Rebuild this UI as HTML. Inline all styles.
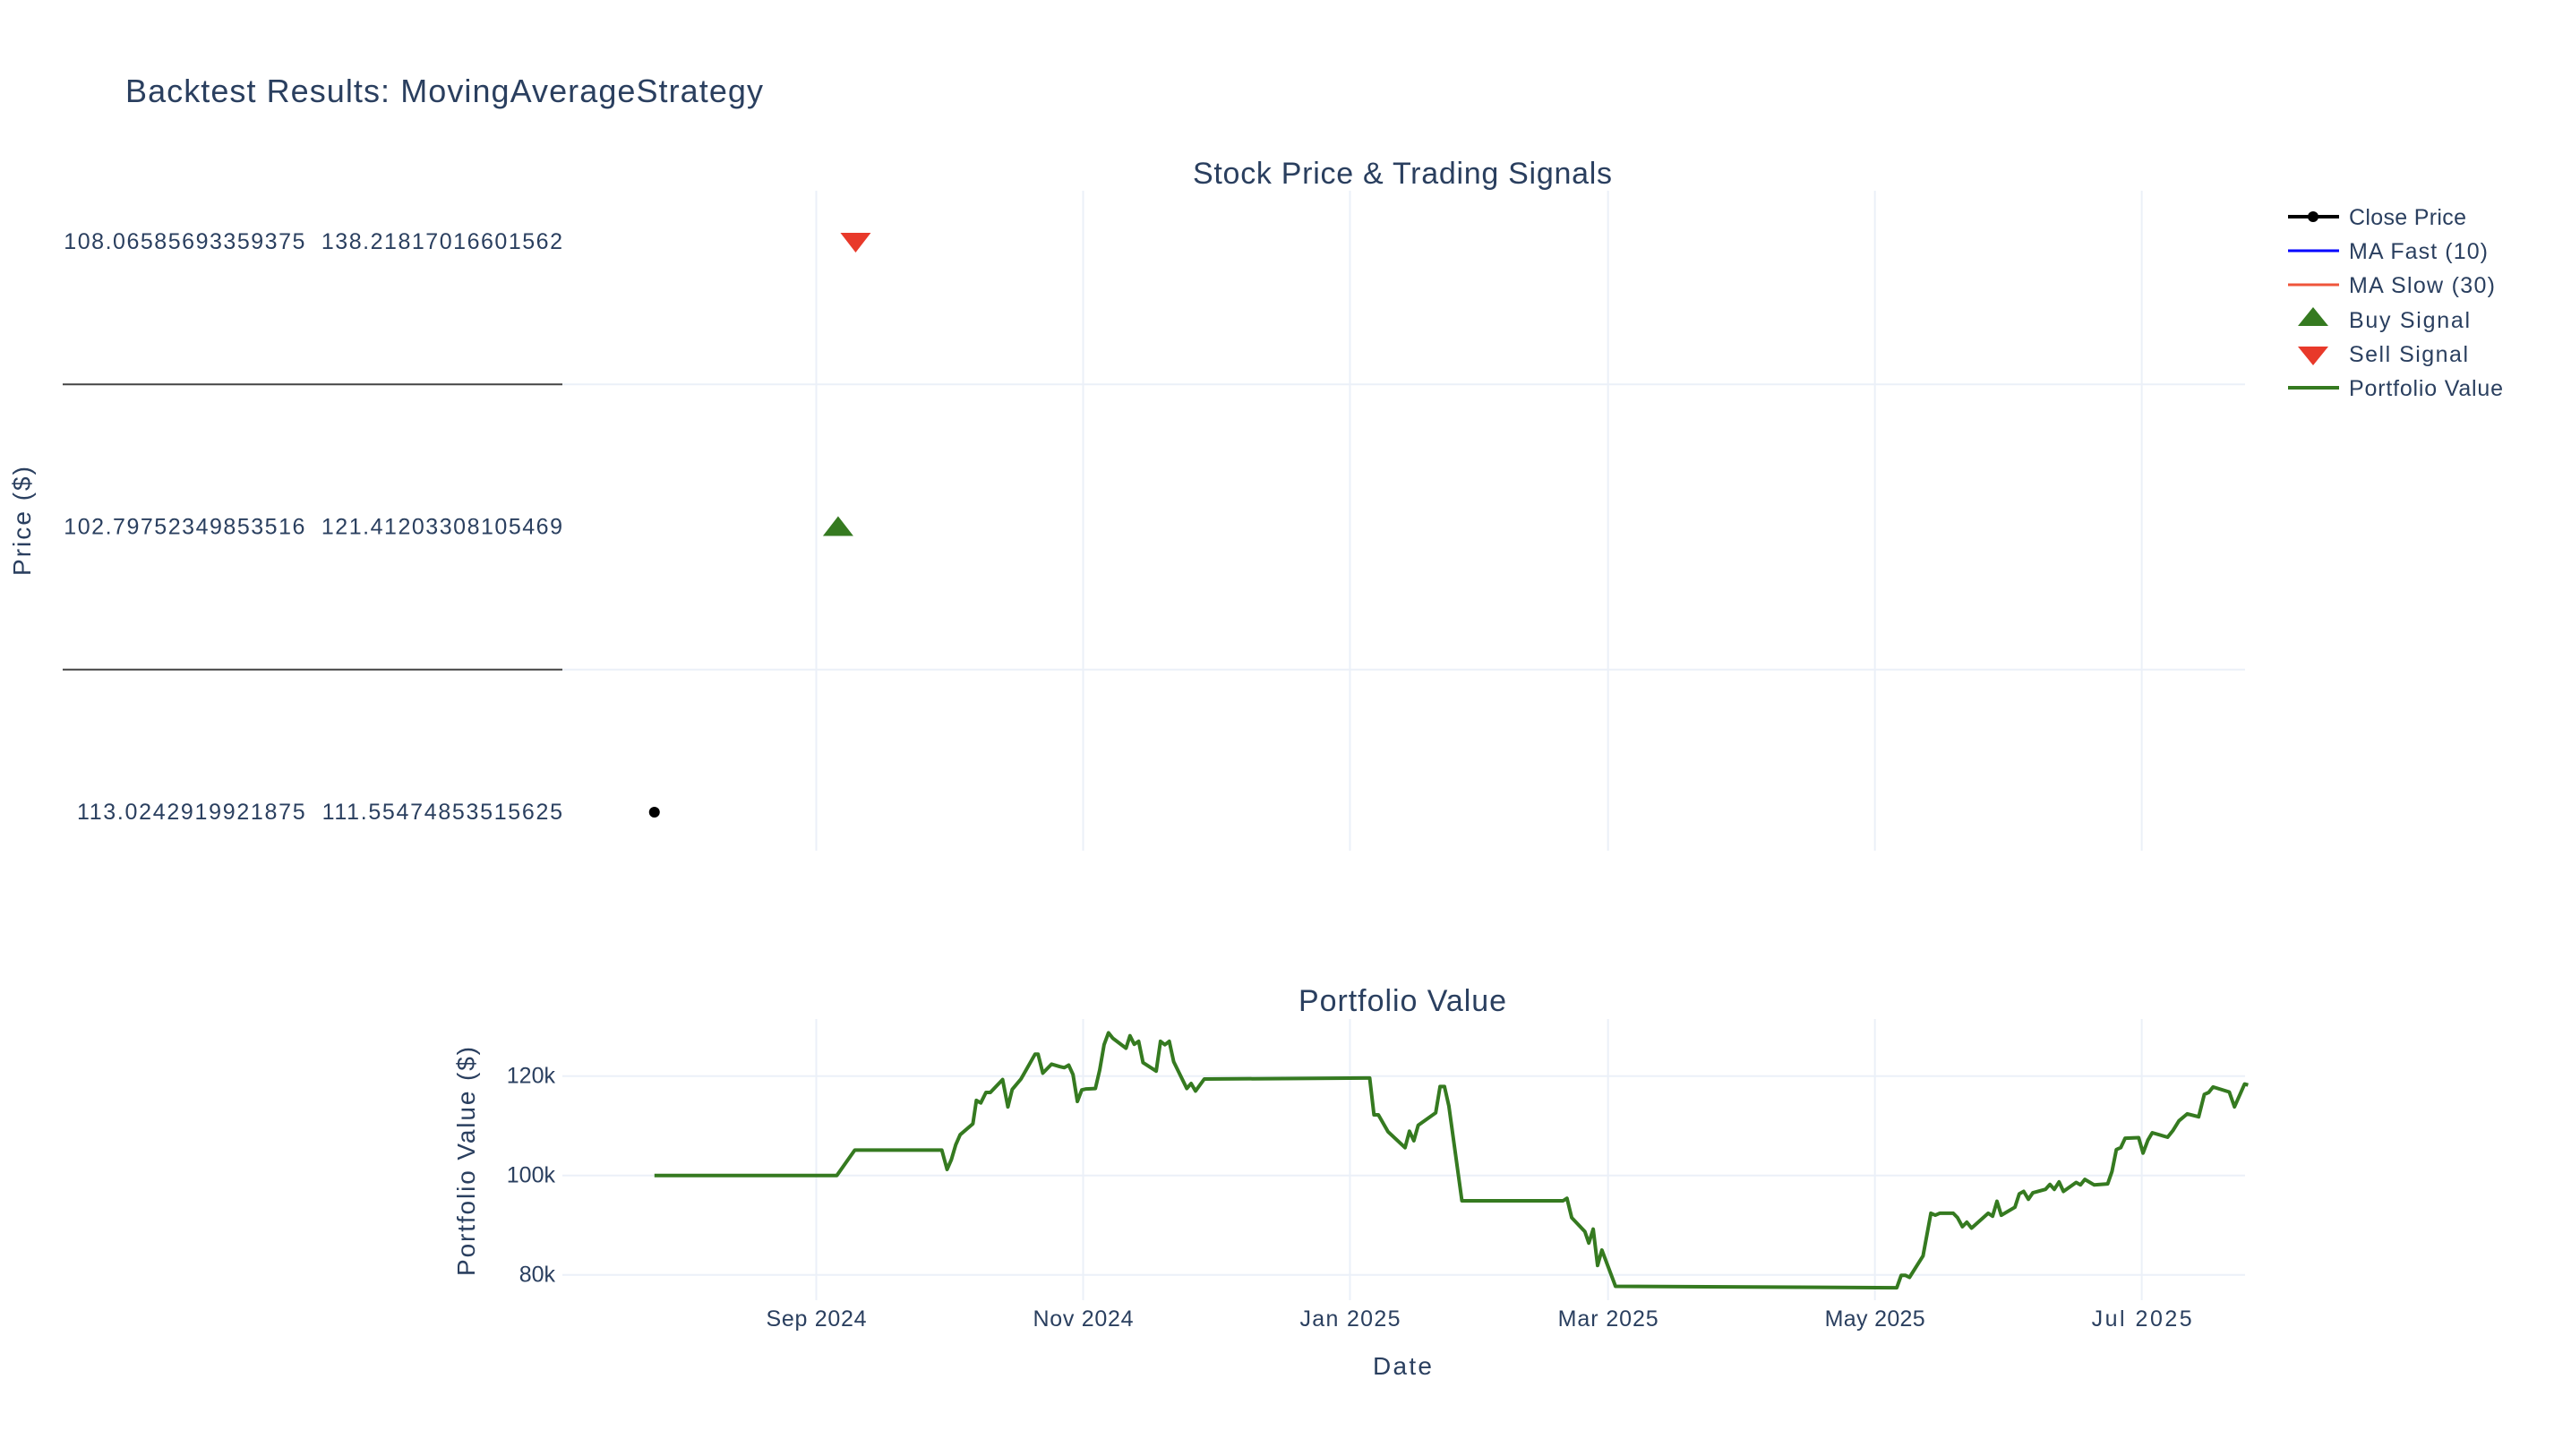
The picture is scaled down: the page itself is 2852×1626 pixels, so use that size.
<!DOCTYPE html>
<html><head><meta charset="utf-8"><style>
html,body{margin:0;padding:0;background:#fff;}
svg{display:block;font-family:"Liberation Sans",sans-serif;}
</style></head><body>
<svg id="chart" width="2852" height="1626" viewBox="0 0 2852 1626" xmlns="http://www.w3.org/2000/svg">
<rect width="2852" height="1626" fill="#fff"/>
<text x="140" y="114" font-size="36" fill="#2a3f5f" textLength="712">Backtest Results: MovingAverageStrategy</text>
<text x="1566" y="205" font-size="34" fill="#2a3f5f" text-anchor="middle" textLength="468">Stock Price &amp; Trading Signals</text>
<text x="1566" y="1129" font-size="34" fill="#2a3f5f" text-anchor="middle" textLength="232">Portfolio Value</text>
<g id="grid"></g>
<g id="top"></g>
<g id="bottom"></g>
<text transform="translate(34,582) rotate(-90)" font-size="28" fill="#2a3f5f" text-anchor="middle" textLength="122">Price ($)</text>
<text transform="translate(530,1297) rotate(-90)" font-size="28" fill="#2a3f5f" text-anchor="middle" textLength="256">Portfolio Value ($)</text>
<text x="1566" y="1535" font-size="28" fill="#2a3f5f" text-anchor="middle" textLength="66">Date</text>
<g id="legend" font-size="25" fill="#2a3f5f">
  <g>
    <line x1="2555" y1="242" x2="2612" y2="242" stroke="#000" stroke-width="4"/><circle cx="2583" cy="242" r="6" fill="#000"/>
    <text x="2623" y="251" textLength="131">Close Price</text></g>
  <g>
    <line x1="2555" y1="280" x2="2612" y2="280" stroke="#0000ff" stroke-width="3"/>
    <text x="2623" y="289" textLength="155">MA Fast (10)</text></g>
  <g>
    <line x1="2555" y1="318" x2="2612" y2="318" stroke="#ef553b" stroke-width="3"/>
    <text x="2623" y="327" textLength="163">MA Slow (30)</text></g>
  <g>
    <polygon points="2566,364 2600,364 2583,343" fill="#357a20"/>
    <text x="2623" y="366" textLength="135">Buy Signal</text></g>
  <g>
    <polygon points="2566,387 2600,387 2583,408" fill="#e8392a"/>
    <text x="2623" y="404" textLength="133">Sell Signal</text></g>
  <g>
    <line x1="2555" y1="433" x2="2612" y2="433" stroke="#357a20" stroke-width="4"/>
    <text x="2623" y="442" textLength="172">Portfolio Value</text></g>
</g>
</svg>
<script>
// x axis ticks (days from 2024-09-01)
const xTickLabels = ["Sep 2024","Nov 2024","Jan 2025","Mar 2025","May 2025","Jul 2025"];
const xTickDays = [0,61,122,181,242,303];
// portfolio values (k$) by day offset from 2024-09-01
const portfolioDays = [-37,4.7,8.8,28.7,29.9,30.9,31.9,32.9,35.8,36.6,37.6,38.8,39.8,42.6,43.8,44.8,46.8,50,50.7,51.8,53.8,55.7,56.7,57.7,58.7,59.7,60.7,61.7,63.8,64.8,65.8,66.8,67.8,70.8,71.7,72.7,73.7,74.7,77.7,78.7,79.7,80.7,81.7,84.7,85.7,86.7,88.7,126.5,127.5,128.5,130.7,134.6,135.6,136.6,137.6,141.6,142.6,143.6,144.6,147.6,170.7,171.6,172.7,175.7,176.6,177.6,178.6,179.6,182.7,247,248,249,249.9,253,254.8,255.8,256.8,259.9,260.9,262,263,264.1,267.9,268.9,269.9,270.9,274,275,276,277.1,278.1,281,282,283,284.1,285.1,288,289,290,292.1,295.2,296.2,297.2,298.2,299.2,302.3,303.3,304.4,305.4,308.9,310.1,311.5,313.4,316,317.3,318.3,319.3,323,324.2,326.5,327.3];
const portfolioValues = [100,100,105.1,105.1,101.2,103.2,106.2,108.2,110.4,115.1,114.6,116.7,116.7,119.3,113.8,117.3,119.4,124.4,124.4,120.6,122.4,121.9,121.7,122.2,120.3,114.9,117.2,117.4,117.5,121.2,126.3,128.7,127.6,125.6,128.1,126.4,127,122.7,121,127,126.3,127,122.9,117.5,118.5,117,119.4,119.6,112.2,112.2,108.8,105.6,108.9,107,110.1,112.6,117.9,117.9,114,94.9,94.9,95.4,91.5,88.7,86.4,89.2,81.9,85,77.7,77.4,79.9,79.9,79.5,83.8,92.4,92,92.4,92.4,91.5,89.7,90.6,89.4,92.4,91.8,94.8,92,93.6,96.3,96.8,95.2,96.5,97.2,98.2,97.2,98.7,96.8,98.6,98.1,99.2,98.1,98.3,100.8,105.2,105.6,107.5,107.6,104.5,107.1,108.6,107.7,109,111,112.4,111.8,116.3,116.7,117.8,116.8,113.8,118.4,118.2];
const yTickValues = [80,100,120];
const yTickLabels = ["80k","100k","120k"];
// price panel categorical y labels and markers
const priceCategories = ["113.0242919921875  111.55474853515625","102.79752349853516  121.41203308105469","108.06585693359375  138.21817016601562"];
const closeDays = [-37];
const closeCats = [0];
const buyDays = [5];
const buyCats = [1];
const sellDays = [9];
const sellCats = [2];

const NS="http://www.w3.org/2000/svg";
const X0=628,X1=2507;
const xScale=d=>911.5+d*4.885;
const yScale=v=>1312.7-(v-100)*5.55;
const catY=i=>907-i*318.5;
function mk(tag,attrs,parent){const e=document.createElementNS(NS,tag);for(const k in attrs)e.setAttribute(k,attrs[k]);parent.appendChild(e);return e;}
const grid=document.getElementById('grid'),top_=document.getElementById('top'),bot=document.getElementById('bottom');

xTickDays.forEach((d,i)=>{
  const x=xScale(d);
  const g1=mk('line',{x1:x,y1:213,x2:x,y2:950,stroke:'#ebf0f8','stroke-width':2},grid);
  
  
  const g2=mk('line',{x1:x,y1:1138,x2:x,y2:1452,stroke:'#ebf0f8','stroke-width':2},grid);
  
  
  const t=mk('text',{x:x,y:1481,'font-size':25,fill:'#2a3f5f','text-anchor':'middle',textLength:xTickLabels[i].length*14},bot);
  t.textContent=xTickLabels[i];
  
  
});
yTickValues.forEach((v,i)=>{
  const y=yScale(v);
  const g=mk('line',{x1:X0,y1:y,x2:X1,y2:y,stroke:'#ebf0f8','stroke-width':2},grid);
  
  
  const t=mk('text',{x:X0-8,y:y+8,'font-size':25,fill:'#2a3f5f','text-anchor':'end'},bot);
  t.textContent=yTickLabels[i];
  
  
});
[0.5,1.5].forEach(c=>{
  const y=catY(c);
  const g=mk('line',{x1:X0,y1:y,x2:X1,y2:y,stroke:'#ebf0f8','stroke-width':2},grid);
  
  
  const l=mk('line',{x1:70,y1:y,x2:628,y2:y,stroke:'#444','stroke-width':2},top_);
  
  
});
priceCategories.forEach((c,i)=>{
  const t=mk('text',{x:628,y:catY(i)+8,'font-size':25,fill:'#2a3f5f','text-anchor':'end',textLength:c.length*14.65},top_);
  t.setAttributeNS('http://www.w3.org/XML/1998/namespace','xml:space','preserve');
  t.textContent=c;
  
  
});
closeDays.forEach((d,i)=>{
  const c=mk('circle',{cx:xScale(d),cy:catY(closeCats[i]),r:6,fill:'#000'},top_);
  
  
});
buyDays.forEach((d,i)=>{
  const x=xScale(d),y=catY(buyCats[i]);
  const p=mk('polygon',{points:`${x-17},${y+10} ${x+17},${y+10} ${x},${y-12}`,fill:'#357a20'},top_);
  
  
});
sellDays.forEach((d,i)=>{
  const x=xScale(d),y=catY(sellCats[i]);
  const p=mk('polygon',{points:`${x-17},${y-10} ${x+17},${y-10} ${x},${y+12}`,fill:'#e8392a'},top_);
  
  
});
const pts=portfolioDays.map((d,i)=>xScale(d).toFixed(1)+','+yScale(portfolioValues[i]).toFixed(1)).join(' ');
const pl=mk('polyline',{points:pts,fill:'none',stroke:'#357a20','stroke-width':4,'stroke-linejoin':'round'},bot);


</script>
</body></html>
